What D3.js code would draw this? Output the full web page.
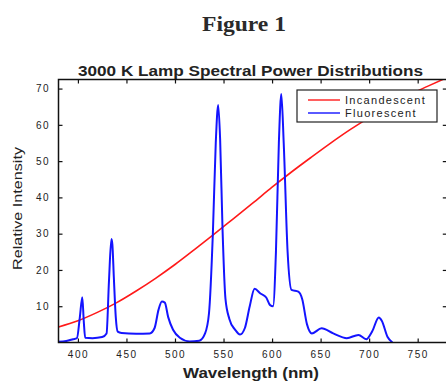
<!DOCTYPE html>
<html lang="en">
<head>
<meta charset="utf-8">
<title>3000 K Lamp Spectral Power Distributions</title>
<script src="https://d3js.org/d3.v7.min.js"></script>
<style>
  body { margin: 0; background: #fff; }
  svg text { font-family: "Liberation Sans", Arial, Helvetica, sans-serif; fill: #222; }
</style>
</head>
<body>
<svg id="chart" width="446" height="383"></svg>
<script>
// incandescent (3000 K) curve
var incWl  = [380, 400, 420, 440, 460, 480, 500, 520, 540, 560, 580, 600, 620, 640, 660, 680, 700, 720, 740, 760, 780];
var incVal = [4.3, 6.0, 8.3, 11.0, 14.2, 17.7, 21.5, 25.6, 29.8, 34.1, 38.4, 42.8, 47.0, 51.0, 54.9, 58.6, 62.0, 65.2, 68.1, 70.6, 73.0];

// fluorescent spectrum
var fluWl  = [380, 388, 395, 399, 402, 404.5, 406, 407.5, 415, 425, 429.5, 432, 434.5, 435.5, 437, 439, 441, 445, 460, 474,
              479, 483, 486.5, 489.5, 493, 498, 505, 515, 525, 531, 535, 539, 542, 544.5, 546.5, 549, 552, 556, 562, 567,
              572, 577, 582, 588, 594, 598, 601, 604, 607, 609.5, 612, 616, 620, 627, 631, 636, 641, 651, 663, 677,
              689, 697, 703, 710, 713, 719, 724];
var fluVal = [0.2, 0.4, 0.9, 1.2, 7, 12.5, 6, 1.3, 1.2, 1.5, 2.5, 17, 28.5, 27, 18, 7, 3, 2.6, 2.4, 2.5,
              4, 9, 11.3, 11, 7, 3.5, 1.3, 0.3, 0.5, 2.5, 8, 30, 55, 65.5, 56, 31, 12, 6.5, 3.5, 2.2,
              4, 10, 14.8, 13.5, 12.4, 10.3, 10, 25, 55, 68.5, 55, 25, 14.5, 14, 12, 5, 2.5, 3.9, 2.5, 1.2,
              2.1, 0.9, 3, 6.9, 6, 1.5, 0];

var xTicks = [400, 450, 500, 550, 600, 650, 700, 750];
var yTicks = [10, 20, 30, 40, 50, 60, 70];
var seriesNames = ["Incandescent", "Fluorescent"];
var seriesColors = ["#ff1a1a", "#1414ff"];

var svg = d3.select("#chart");

var x = d3.scaleLinear().domain([380, 780]).range([58.5, 446.8]);
var y = d3.scaleLinear().domain([0, 72.5]).range([342.5, 79.5]);

// titles
svg.append("text").attr("x", 244).attr("y", 31).attr("text-anchor", "middle")
  .attr("textLength", 84).attr("lengthAdjust", "spacingAndGlyphs")
  .style("font-family", "'Liberation Serif', 'Times New Roman', serif")
  .style("font-size", "21px").style("font-weight", "bold").style("fill", "#2a2a2a")
  .text("Figure 1");

svg.append("text").attr("x", 250.5).attr("y", 75.5).attr("text-anchor", "middle")
  .attr("textLength", 345).attr("lengthAdjust", "spacingAndGlyphs")
  .style("font-size", "14px").style("font-weight", "bold")
  .text("3000 K Lamp Spectral Power Distributions");

svg.append("text").attr("x", 251).attr("y", 378).attr("text-anchor", "middle")
  .attr("textLength", 136).attr("lengthAdjust", "spacingAndGlyphs")
  .style("font-size", "14px").style("font-weight", "bold")
  .text("Wavelength (nm)");

svg.append("text").attr("transform", "translate(22,208.5) rotate(-90)").attr("text-anchor", "middle")
  .attr("textLength", 123).attr("lengthAdjust", "spacingAndGlyphs")
  .style("font-size", "13px")
  .text("Relative Intensity");

// clip to plot box
svg.append("clipPath").attr("id", "plotClip").append("rect")
  .attr("x", x.range()[0]).attr("y", y.range()[1])
  .attr("width", x.range()[1] - x.range()[0]).attr("height", y.range()[0] - y.range()[1]);

var plot = svg.append("g").attr("clip-path", "url(#plotClip)");

var incLine = d3.line().x(function(d, i) { return x(incWl[i]); }).y(function(d) { return y(d); })
  .curve(d3.curveMonotoneX);
var fluLine = d3.line().x(function(d, i) { return x(fluWl[i]); }).y(function(d) { return y(d); })
  .curve(d3.curveMonotoneX);

plot.append("path").attr("d", incLine(incVal))
  .attr("fill", "none").attr("stroke", seriesColors[0]).attr("stroke-width", 1.6);

plot.append("path").attr("d", fluLine(fluVal))
  .attr("fill", "none").attr("stroke", seriesColors[1]).attr("stroke-width", 2)
  .attr("stroke-linejoin", "round");

// axes, ticks pointing inward
function styleAxis(g) {
  g.select(".domain").remove();
  g.selectAll(".tick line").attr("stroke", "#111").attr("stroke-width", 1.2);
  g.selectAll(".tick text").style("font-size", "10px").style("letter-spacing", "1.5px")
    .style("font-family", "'Liberation Sans', Arial, sans-serif").attr("fill", "#333");
}

svg.append("g").attr("transform", "translate(0," + y.range()[0] + ")")
  .call(d3.axisBottom(x).tickValues(xTicks).tickSizeInner(-4).tickSizeOuter(0).tickPadding(8))
  .call(styleAxis);
svg.append("g").attr("transform", "translate(0," + y.range()[1] + ")")
  .call(d3.axisTop(x).tickValues(xTicks).tickFormat("").tickSizeInner(-4).tickSizeOuter(0))
  .call(styleAxis);
svg.append("g").attr("transform", "translate(" + x.range()[0] + ",0)")
  .call(d3.axisLeft(y).tickValues(yTicks).tickSizeInner(-4).tickSizeOuter(0).tickPadding(8.5))
  .call(styleAxis);
svg.append("g").attr("transform", "translate(" + x.range()[1] + ",0)")
  .call(d3.axisRight(y).tickValues(yTicks).tickFormat("").tickSizeInner(-4).tickSizeOuter(0))
  .call(styleAxis);

// box
svg.append("rect")
  .attr("x", x.range()[0]).attr("y", y.range()[1])
  .attr("width", x.range()[1] - x.range()[0]).attr("height", y.range()[0] - y.range()[1])
  .attr("fill", "none").attr("stroke", "#111").attr("stroke-width", 1.5);

// legend
var legend = svg.append("g").attr("transform", "translate(297,90)");
legend.append("rect").attr("width", 140).attr("height", 32)
  .attr("fill", "#fff").attr("stroke", "#222").attr("stroke-width", 1.2);
seriesNames.forEach(function(name, i) {
  var ly = 10 + i * 13;
  legend.append("line").attr("x1", 11).attr("x2", 43).attr("y1", ly).attr("y2", ly)
    .attr("stroke", seriesColors[i]).attr("stroke-width", 1.4);
  legend.append("text").attr("x", 48).attr("y", ly + 4)
    .style("font-size", "11px").style("letter-spacing", "1.3px")
    .text(name);
});
</script>
</body>
</html>
